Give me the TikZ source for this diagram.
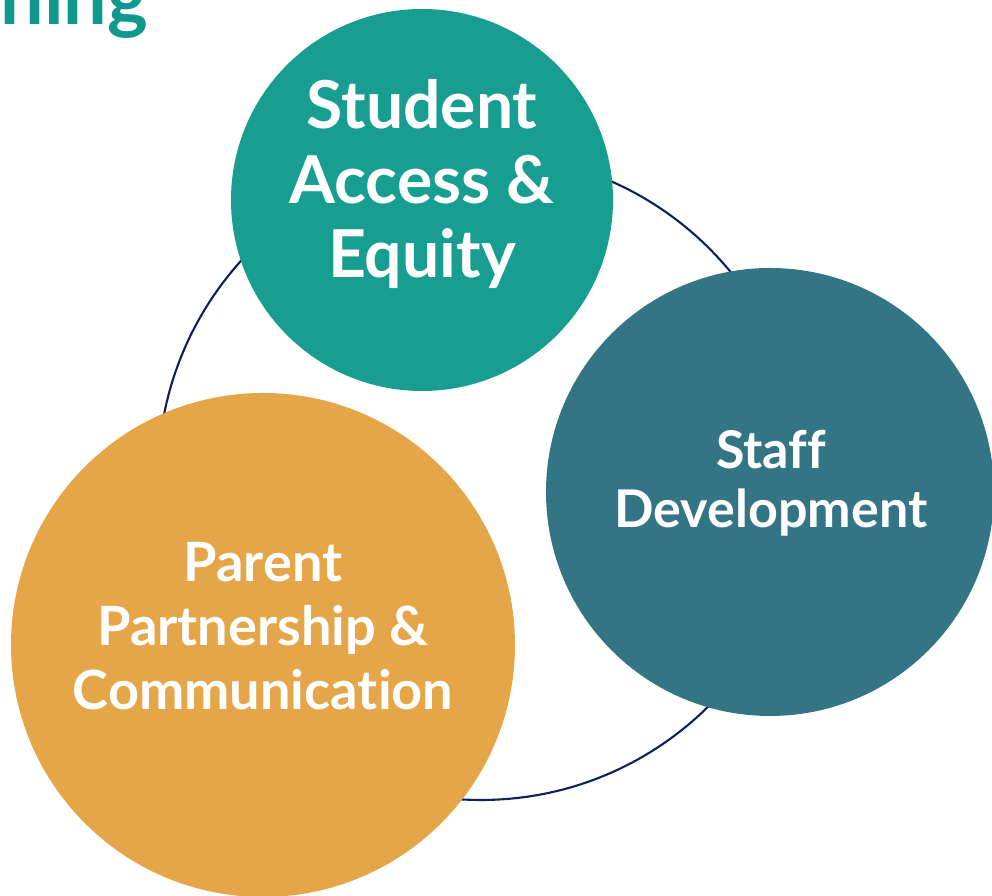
\documentclass[tikz,border=0pt]{standalone}
\usepackage{fontspec}
\setmainfont{Lato}[Ligatures={NoCommon}]
\definecolor{accessteal}{HTML}{179E91}
\definecolor{staffteal}{HTML}{337585}
\definecolor{parentgold}{HTML}{E5A64A}
\definecolor{ringnavy}{HTML}{0E1F5B}
\definecolor{titleteal}{HTML}{0E998C}
\tikzset{
  bubble/.style={circle,inner sep=0pt,minimum size=#1},
  bubbletext/.style 2 args={text=white,align=center,font=\bfseries\fontsize{#1}{#2}\selectfont}
}
\begin{document}
\begin{tikzpicture}
    \useasboundingbox (0,0) rectangle (9.92,-8.96);
    \clip (0,0) rectangle (9.92,-8.96);

    % heading, cut at the top edge
    \node[anchor=base east,inner sep=0pt,text=titleteal,font=\bfseries\fontsize{22}{26}\selectfont]
      (heading) at (1.49,-0.25) {ning};

    % the ring behind the three areas
    \coordinate (ringcentre) at (4.81,-4.77);
    \draw[ringnavy,line width=0.6pt] (ringcentre) circle (3.23);

    \node[bubble=3.82cm,fill=accessteal] (access) at (4.22,-2.00) {};
    \node[bubble=4.48cm,fill=staffteal] (staff) at (7.70,-4.92) {};
    \node[bubble=5.04cm,fill=parentgold] (parent) at (2.63,-6.45) {};

    \node[bubbletext={18.8}{21.3}] (accesslabel) at (4.22,-1.84) {Student\\Access \&\\Equity};
    \node[bubbletext={14.8}{16.8}] (stafflabel) at (7.71,-4.83) {Staff\\Development};
    \node[bubbletext={15.4}{18.2}] (parentlabel) at (2.63,-6.26) {Parent\\Partnership \&\\Communication};
\end{tikzpicture}
\end{document}
